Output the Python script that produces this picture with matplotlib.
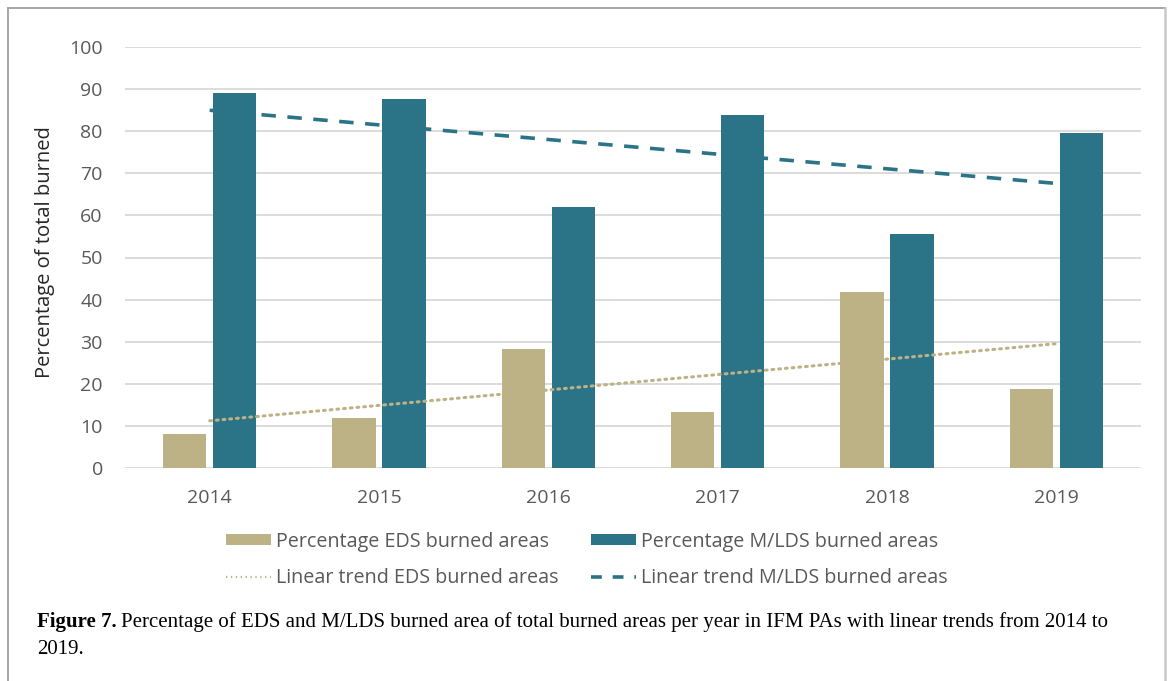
import numpy as np
import matplotlib
matplotlib.use("Agg")
import matplotlib.pyplot as plt
from matplotlib.lines import Line2D
from matplotlib.patches import Patch

years = ["2014", "2015", "2016", "2017", "2018", "2019"]
eds = [8.1, 11.9, 28.3, 13.3, 41.8, 18.8]
mlds = [89.1, 87.6, 62.0, 83.8, 55.6, 79.6]
yticks = [0, 10, 20, 30, 40, 50, 60, 70, 80, 90, 100]

TAN = "#BDB286"
TEAL = "#2B7386"
GRID = "#D9D9D9"
TICK = "#595959"

plt.rcParams['font.family'] = ['Open Sans', 'DejaVu Sans']

W, H = 1171, 681
fig = plt.figure(figsize=(W/100, H/100), dpi=100)
ax = fig.add_axes([125/W, 1-468/H, (1141-125)/W, (468-47)/H])

x = np.arange(len(years))
w = 0.255
off = 0.148
ax.bar(x - off, eds, w, color=TAN, zorder=2)
ax.bar(x + off, mlds, w, color=TEAL, zorder=2)

# linear trends (least squares fit of the data)
pe = np.polyfit(x, eds, 1)
pm = np.polyfit(x, mlds, 1)
ax.plot(x, np.polyval(pe, x), color=TAN, lw=2.2, linestyle=(0, (0.6, 1.6)),
        dash_capstyle='round', zorder=3)
ax.plot(x, np.polyval(pm, x), color=TEAL, lw=2.6, linestyle=(0, (4, 3.2)), zorder=3)

ax.set_xlim(-0.5, len(years) - 0.5)
ax.set_ylim(0, 100)
ax.set_yticks(yticks)
ax.set_xticks(x)
ax.set_xticklabels(years)
ax.yaxis.grid(True, color=GRID, lw=1.3, zorder=0)
ax.set_axisbelow(True)
for s in ax.spines.values():
    s.set_visible(False)
ax.tick_params(axis='both', length=0, labelsize=14, colors=TICK)
ax.tick_params(axis='y', pad=16)
ax.tick_params(axis='x', pad=15)
ax.set_ylabel("Percentage of total burned", fontsize=14.5, color="#262626")
ax.yaxis.set_label_coords((55-125)/1016, 0.513)

handles = [
    Patch(facecolor=TAN, edgecolor='none'),
    Line2D([], [], color=TAN, lw=1.6, linestyle=(0, (0.6, 1.6))),
    Patch(facecolor=TEAL, edgecolor='none'),
    Line2D([], [], color=TEAL, lw=2.6, linestyle=(0, (3, 3))),
]
labels = [
    "Percentage EDS burned areas",
    "Linear trend EDS burned areas",
    "Percentage M/LDS burned areas",
    "Linear trend M/LDS burned areas",
]
leg = fig.legend(handles, labels, ncol=2, loc='center', bbox_to_anchor=(587/W, 1-560/H),
                 frameon=False, fontsize=14.26, handlelength=2.27, handleheight=0.5,
                 handletextpad=0.25, columnspacing=1.67, labelspacing=0.84,
                 borderpad=0, borderaxespad=0)
for t in leg.get_texts():
    t.set_color(TICK)

# caption
serif = ['Liberation Serif', 'DejaVu Serif']
body = ("Percentage of EDS and M/LDS burned area of total burned areas per year in IFM PAs "
        "with linear trends from 2014 to")
t1 = fig.text(37/W, 1-622/H, "Figure 7.", fontsize=15, fontweight='bold',
              family=serif, va='center', ha='left')
t2 = fig.text(0, 1-622/H, body, fontsize=15, family=serif, va='center', ha='left')
t3 = fig.text(37/W, 1-649/H, "2019.", fontsize=15, family=serif, va='center', ha='left')
fig.canvas.draw()
r = fig.canvas.get_renderer()
space = 4
w1 = t1.get_window_extent(r).width
w2 = t2.get_window_extent(r).width
scale = (1110 - 37 - space) / (w1 + w2)
fs = 15 * scale
for t in (t1, t2, t3):
    t.set_fontsize(fs)
fig.canvas.draw()
w1 = t1.get_window_extent(r).width
t2.set_x((37 + w1 + space) / W)

# outer frame
fc = "#A6A6A6"
fig.add_artist(Line2D([8/W, 8/W], [0, 1-8/H], color=fc, lw=1.4, transform=fig.transFigure))
fig.add_artist(Line2D([8/W, 1165/W], [1-8/H, 1-8/H], color=fc, lw=1.4, transform=fig.transFigure))
fig.add_artist(Line2D([1165/W, 1165/W], [0, 1-8/H], color="#C8C8C8", lw=1.8, transform=fig.transFigure))

fig.savefig("out.png", dpi=100)
